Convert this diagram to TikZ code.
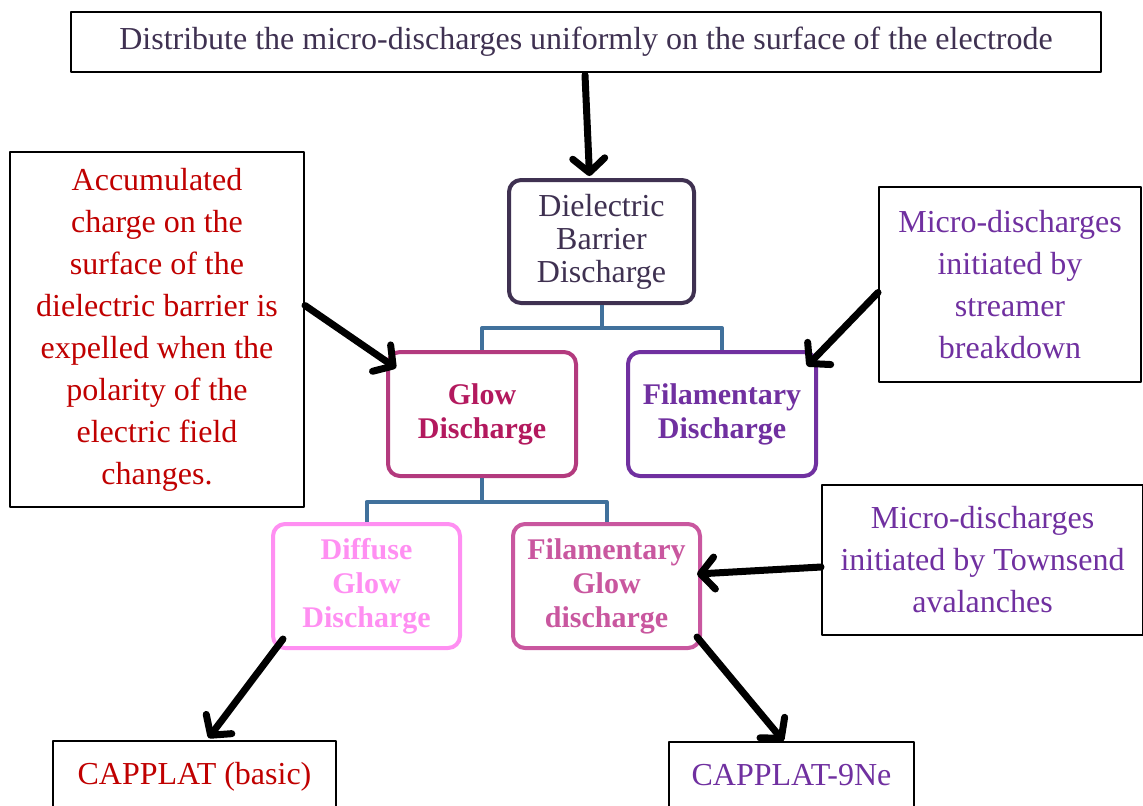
\documentclass[tikz,border=0pt]{standalone}
\usepackage{fontspec}
\setmainfont{Liberation Serif}
\usepackage{xcolor}
\usetikzlibrary{arrows.meta,calc}
\definecolor{fcInk}{HTML}{3F3151}
\definecolor{fcLink}{HTML}{41719C}
\definecolor{fcRed}{HTML}{C00000}
\definecolor{fcPurple}{HTML}{7030A0}
\definecolor{fcGlow}{HTML}{B33A7E}
\definecolor{fcGlowText}{HTML}{B3195E}
\definecolor{fcDiffuse}{HTML}{FF8FF2}
\definecolor{fcFilGlow}{HTML}{C9579F}
\tikzset{
  fc diagram/.style={x=0.5pt, y=-0.5pt, line join=round},
  fc plain/.style={draw=black, line width=1pt, fill=white, align=center,
    inner sep=0pt, font=\fontsize{16}{21}\selectfont},
  fc round/.style={rounded corners=6pt, line width=2pt, fill=white,
    align=center, inner sep=0pt, font=\fontsize{16}{16.5}\selectfont},
  fc bold/.style={fc round, font=\fontsize{15}{17}\selectfont\bfseries},
  fc link/.style={draw=fcLink, line width=2pt},
  fc arrow/.style={-{Straight Barb[length=7pt,width=16pt,round]},
    draw=black, line width=3.5pt, line cap=round}
}
\begin{document}
\begin{tikzpicture}[fc diagram]
\useasboundingbox (0,0) rectangle (1143,805);
% boxes
\node[fc plain, text=fcInk, minimum width=515pt, minimum height=30pt] (goal) at (586,42)
  {Distribute the micro-discharges uniformly on the surface of the electrode};
\node[fc round, draw=fcInk, text=fcInk, minimum width=92.5pt, minimum height=61.5pt] (dbd) at (601.5,241.5)
  {Dielectric\\Barrier\\Discharge};
\node[fc plain, text=fcRed, minimum width=147pt, minimum height=177.5pt] (charge) at (157,329.5)
  {Accumulated\\charge on the\\surface of the\\dielectric barrier is\\expelled when the\\polarity of the\\electric field\\changes.};
\node[fc plain, text=fcPurple, minimum width=131pt, minimum height=97.5pt] (streamer) at (1010,284.5)
  {Micro-discharges\\initiated by\\streamer\\breakdown};
\node[fc bold, draw=fcGlow, text=fcGlowText, minimum width=94pt, minimum height=62pt] (glow) at (482,414)
  {Glow\\Discharge};
\node[fc bold, draw=fcPurple, text=fcPurple, minimum width=94pt, minimum height=62pt] (filament) at (722,414)
  {Filamentary\\Discharge};
\node[fc bold, draw=fcDiffuse, text=fcDiffuse, minimum width=93.5pt, minimum height=62pt] (diffuse) at (366.5,586)
  {Diffuse\\Glow\\Discharge};
\node[fc bold, draw=fcFilGlow, text=fcFilGlow, minimum width=93.5pt, minimum height=62pt] (filglow) at (606.5,586)
  {Filamentary\\Glow\\discharge};
\node[fc plain, text=fcPurple, minimum width=160.5pt, minimum height=75pt] (townsend) at (982.5,560)
  {Micro-discharges\\initiated by Townsend\\avalanches};
\node[fc plain, text=fcRed, minimum width=141.5pt, text height=21.5pt, text depth=18pt, anchor=north] (basic) at (194.5,740)
  {CAPPLAT (basic)};
\node[fc plain, text=fcPurple, minimum width=122.5pt, text height=21.5pt, text depth=18pt, anchor=north] (neon) at (791.5,741)
  {CAPPLAT-9Ne};
% tree links
\draw[fc link] (dbd.south) -- ++(0,23) -| (glow.north);
\draw[fc link] (dbd.south) -- ++(0,23) -| (filament.north);
\draw[fc link] (glow.south) -- ++(0,24) -| (diffuse.north);
\draw[fc link] (glow.south) -- ++(0,24) -| (filglow.north);
% arrows
\draw[fc arrow] ([xshift=-0.5pt,yshift=-1pt]goal.south) -- ([xshift=-6pt,yshift=1pt]dbd.north);
\draw[fc arrow] ([yshift=12pt]charge.east) -- ([xshift=5pt,yshift=-9pt]glow.north west);
\draw[fc arrow] ([yshift=-4pt]streamer.west) -- ([xshift=-5.5pt,yshift=-8pt]filament.north east);
\draw[fc arrow] ([yshift=-3.5pt]townsend.west) -- ([xshift=-2.5pt,yshift=6pt]filglow.east);
\draw[fc arrow] ([xshift=6pt,yshift=5.5pt]diffuse.south west) -- ([xshift=7pt,yshift=1pt]basic.north);
\draw[fc arrow] ([xshift=-2.5pt,yshift=6.5pt]filglow.south east) -- ([xshift=-4pt]neon.north);
\end{tikzpicture}
\end{document}
